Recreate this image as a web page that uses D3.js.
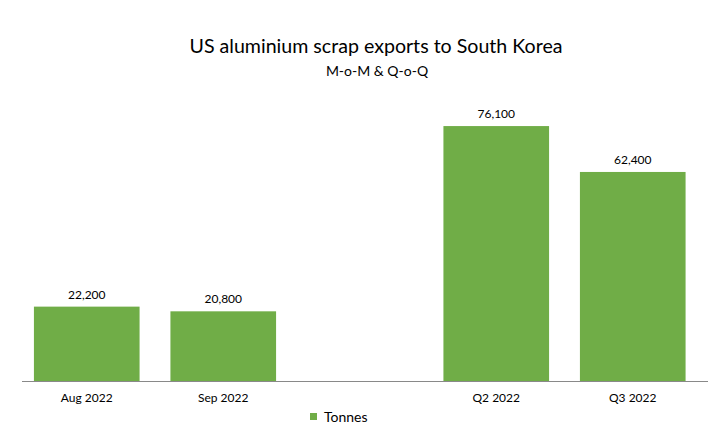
<!DOCTYPE html>
<html><head><meta charset="utf-8">
<script src="https://cdn.jsdelivr.net/npm/d3@7"></script>
<style>body{margin:0;background:#fff}svg{display:block}text{font-family:Lato,"Open Sans",sans-serif;fill:#000}</style>
</head><body><svg id="c" width="728" height="441"></svg>
<script>
const categories = ["Aug 2022","Sep 2022","","Q2 2022","Q3 2022"];
const values = [22200, 20800, null, 76100, 62400];
const seriesName = "Tonnes";
const title = "US aluminium scrap exports to South Korea";
const subtitle = "M-o-M & Q-o-Q";

const svg = d3.select("#c");
const base = 381;
const x = d3.scaleBand().domain(categories.map((c,i)=>i)).range([18.5,701]).paddingInner(0.226).paddingOuter(0.113);
const y = d3.scaleLinear().domain([0,80000]).range([base, base - 268]);
const green = "#70AD47";

svg.append("text").attr("x",376).attr("y",53).attr("text-anchor","middle").attr("font-size",19.6).text(title);
svg.append("text").attr("x",377).attr("y",76).attr("text-anchor","middle").attr("font-size",14).text(subtitle);

const data = values.map((v,i)=>({i,v,c:categories[i]})).filter(d=>d.v!==null);
svg.selectAll("rect.bar").data(data).join("rect").attr("class","bar")
  .attr("x",d=>x(d.i)).attr("width",x.bandwidth())
  .attr("y",d=>y(d.v)).attr("height",d=>base-y(d.v)).attr("fill",green);
svg.selectAll("text.lbl").data(data).join("text").attr("class","lbl")
  .attr("x",d=>x(d.i)+x.bandwidth()/2).attr("y",d=>y(d.v)-8)
  .attr("text-anchor","middle").attr("font-size",12).text(d=>d3.format(",")(d.v));

svg.append("line").attr("x1",22).attr("x2",708).attr("y1",base+0.5).attr("y2",base+0.5).attr("stroke","#898989").attr("stroke-width",1);
svg.selectAll("text.cat").data(data).join("text").attr("class","cat")
  .attr("x",d=>x(d.i)+x.bandwidth()/2).attr("y",base+21)
  .attr("text-anchor","middle").attr("font-size",12).text(d=>d.c);

svg.append("rect").attr("x",310).attr("y",413).attr("width",7).attr("height",7).attr("fill",green);
svg.append("text").attr("x",324).attr("y",422).attr("font-size",14).text(seriesName);
</script></body></html>
